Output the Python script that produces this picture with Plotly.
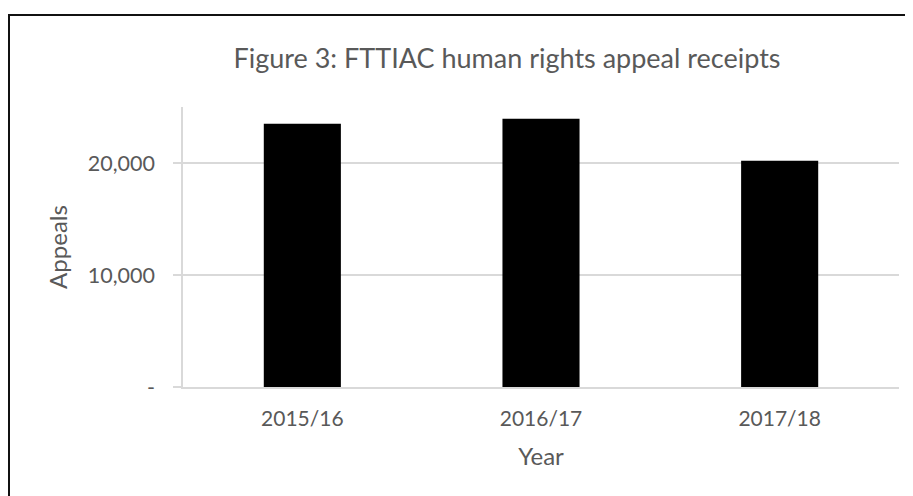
import plotly.graph_objects as go

years = ["2015/16", "2016/17", "2017/18"]
appeals = [23500, 23950, 20200]
y_tickvals = [0, 10000, 20000]
y_ticktext = ["-", "10,000", "20,000"]

# The page adds an 8px body margin, so figure coords = screen coords - 8
OFF = 8
W, H = 913, 496
L, T = 183 - OFF, 107 - OFF
R = W - (899 - OFF)
B = H - (387 - OFF)
pw, ph = W - L - R, H - T - B

def px(x):
    return (x - OFF - L) / pw

def py(y):
    return (H - B - (y - OFF)) / ph

FONT = "Lato, 'Open Sans', sans-serif"
GREY = "#595959"

fig = go.Figure(go.Bar(
    x=years, y=appeals,
    marker=dict(color="#000000", line=dict(width=0)),
    hoverinfo="x+y",
))

fig.update_layout(
    width=W, height=H,
    margin=dict(l=L, r=R, t=T, b=B, autoexpand=False),
    paper_bgcolor="white", plot_bgcolor="white",
    bargap=0.677,
    showlegend=False,
    font=dict(family=FONT, color=GREY),
    title=dict(
        text="Figure 3: FTTIAC human rights appeal receipts",
        font=dict(family=FONT, size=27, color=GREY),
        x=(507 - OFF) / W, xref="container", xanchor="center",
        y=1 - (59 - OFF) / H, yref="container", yanchor="middle",
    ),
    xaxis=dict(
        showline=True, linecolor="#d9d9d9", linewidth=1.5,
        showgrid=False, ticks="",
        tickfont=dict(family=FONT, size=21, color=GREY),
        ticklabelstandoff=12,
        title=dict(text="Year", font=dict(family=FONT, size=24, color=GREY), standoff=19),
    ),
    yaxis=dict(
        range=[0, 25000],
        showline=True, linecolor="#d9d9d9", linewidth=1.5,
        showgrid=True, gridcolor="#d9d9d9", gridwidth=1.5,
        zeroline=False,
        ticks="outside", ticklen=8, tickcolor="#d9d9d9", tickwidth=1.5,
        tickvals=y_tickvals, ticktext=y_ticktext,
        tickfont=dict(family=FONT, size=21.5, color=GREY),
        ticklabelstandoff=14,
        title=dict(text="Appeals", font=dict(family=FONT, size=24, color=GREY), standoff=13),
    ),
    shapes=[
        dict(type="line", xref="paper", yref="paper",
             x0=px(9), x1=px(9), y0=py(15), y1=py(520),
             line=dict(color="#111111", width=2)),
        dict(type="line", xref="paper", yref="paper",
             x0=px(8), x1=px(940), y0=py(15), y1=py(15),
             line=dict(color="#111111", width=2)),
    ],
)

fig.write_html("out.html")
